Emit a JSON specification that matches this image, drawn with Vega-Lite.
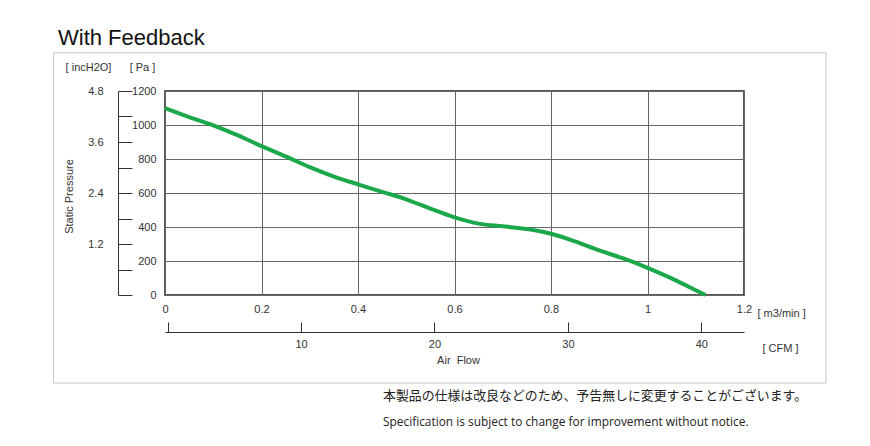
{
  "$schema": "https://vega.github.io/schema/vega-lite/v6.json",
  "width": 579,
  "height": 204,
  "autosize": {"type": "none"},
  "padding": {"left": 165, "top": 91, "right": 126, "bottom": 151},
  "background": "white",
  "title": {
    "text": "With Feedback",
    "anchor": "start",
    "frame": "group",
    "dx": -107,
    "offset": 2,
    "font": "Liberation Sans",
    "fontSize": 22,
    "fontWeight": "normal",
    "color": "#111111"
  },
  "config": {
    "view": {"stroke": "#222222", "strokeWidth": 1.5},
    "axis": {
      "labelFont": "Liberation Sans",
      "titleFont": "Liberation Sans",
      "labelFontSize": 11,
      "titleFontSize": 11,
      "titleFontWeight": "normal",
      "labelColor": "#333333",
      "titleColor": "#333333",
      "gridColor": "#666666",
      "gridOpacity": 1,
      "gridWidth": 1,
      "domainColor": "#333333",
      "tickColor": "#333333"
    }
  },
  "resolve": {"scale": {"x": "independent", "y": "independent"}},
  "layer": [
    {
      "data": {"values": [
        {"flow": 0, "pressure": 1100},
        {"flow": 0.05, "pressure": 1047},
        {"flow": 0.1, "pressure": 998},
        {"flow": 0.15, "pressure": 940},
        {"flow": 0.2, "pressure": 876},
        {"flow": 0.25, "pressure": 815},
        {"flow": 0.3, "pressure": 752},
        {"flow": 0.35, "pressure": 697},
        {"flow": 0.4, "pressure": 651},
        {"flow": 0.45, "pressure": 607},
        {"flow": 0.5, "pressure": 563},
        {"flow": 0.55, "pressure": 508},
        {"flow": 0.6, "pressure": 457},
        {"flow": 0.65, "pressure": 420},
        {"flow": 0.7, "pressure": 404},
        {"flow": 0.75, "pressure": 388},
        {"flow": 0.8, "pressure": 360},
        {"flow": 0.85, "pressure": 315},
        {"flow": 0.9, "pressure": 262},
        {"flow": 0.95, "pressure": 215},
        {"flow": 1.0, "pressure": 160},
        {"flow": 1.05, "pressure": 98},
        {"flow": 1.1, "pressure": 28},
        {"flow": 1.12, "pressure": 0}
      ]},
      "mark": {"type": "line", "color": "#1ba84b", "strokeWidth": 4, "interpolate": "monotone"},
      "encoding": {
        "x": {
          "field": "flow", "type": "quantitative",
          "scale": {"domain": [0, 1.2], "nice": false, "zero": false},
          "axis": {
            "orient": "bottom",
            "values": [0, 0.2, 0.4, 0.6, 0.8, 1, 1.2],
            "format": "~g",
            "grid": true, "ticks": false, "domain": false,
            "labelPadding": 8,
            "labelFlush": false,
            "title": "[ m3/min ]",
            "titleAngle": 0,
            "titleAlign": "left",
            "titleBaseline": "middle",
            "titleX": 592,
            "titleY": 18
          }
        },
        "y": {
          "field": "pressure", "type": "quantitative",
          "scale": {"domain": [0, 1200], "nice": false},
          "axis": {
            "orient": "left",
            "values": [0, 200, 400, 600, 800, 1000, 1200],
            "format": "d",
            "grid": true, "ticks": false, "domain": false,
            "labelPadding": 9,
            "labelFlush": false,
            "title": "[ Pa ]",
            "titleAngle": 0,
            "titleAlign": "center",
            "titleBaseline": "middle",
            "titleX": -23,
            "titleY": -24
          }
        }
      }
    },
    {
      "data": {"values": [{}]},
      "mark": {"type": "point", "opacity": 0},
      "encoding": {
        "x": {
          "datum": 0, "type": "quantitative",
          "scale": {"domain": [-0.2, 43.2], "nice": false, "zero": false},
          "axis": {
            "orient": "bottom",
            "offset": 37,
            "values": [0, 10, 20, 30, 40],
            "labelExpr": "datum.value == 0 ? '' : datum.label",
            "grid": false, "ticks": true, "domain": true,
            "tickSize": -10,
            "labelPadding": 16,
            "labelFlush": false,
            "title": "[ CFM ]",
            "titleAngle": 0,
            "titleAlign": "left",
            "titleBaseline": "middle",
            "titleX": 597,
            "titleY": 16
          }
        },
        "y": {
          "datum": 0, "type": "quantitative",
          "scale": {"domain": [0, 4.8], "nice": false},
          "axis": {
            "orient": "left",
            "offset": 47,
            "values": [0, 0.6, 1.2, 1.8, 2.4, 3, 3.6, 4.2, 4.8],
            "labelExpr": "(datum.value == 1.2 || datum.value == 2.4 || datum.value == 3.6 || datum.value == 4.8) ? format(datum.value, '.1f') : ''",
            "grid": false, "ticks": true, "domain": true,
            "tickSize": -14,
            "labelPadding": 29,
            "labelFlush": false,
            "title": "[ incH2O]",
            "titleAngle": 0,
            "titleAlign": "center",
            "titleBaseline": "middle",
            "titleX": -30,
            "titleY": -24
          }
        }
      }
    },
    {
      "data": {"values": [{}]},
      "mark": {"type": "rect", "fill": "transparent", "stroke": "#c8c8c8", "strokeWidth": 1},
      "encoding": {
        "x": {
          "datum": -0.2311, "type": "quantitative",
          "scale": {"domain": [0, 1.2], "nice": false, "zero": false},
          "axis": {
            "orient": "bottom",
            "labels": false, "ticks": false, "domain": false, "grid": false,
            "title": "Air\u00a0 Flow",
            "titleAngle": 0,
            "titleAlign": "center",
            "titleBaseline": "middle",
            "titleX": 293,
            "titleY": 65
          }
        },
        "x2": {"datum": 1.3699},
        "y": {
          "datum": 1425, "type": "quantitative",
          "scale": {"domain": [0, 1200], "nice": false},
          "axis": {
            "orient": "left",
            "labels": false, "ticks": false, "domain": false, "grid": false,
            "title": "Static Pressure",
            "titleAngle": -90,
            "titleAlign": "center",
            "titleBaseline": "middle",
            "titleX": -96,
            "titleY": 105
          }
        },
        "y2": {"datum": -518}
      }
    },
    {
      "data": {"values": [{}]},
      "mark": {"type": "text", "text": "本製品の仕様は改良などのため、予告無しに変更することがございます。", "align": "left", "baseline": "middle", "font": "Noto Sans CJK JP", "fontSize": 12.9, "color": "#222222"},
      "encoding": {
        "x": {"datum": 0.4518, "type": "quantitative", "scale": {"domain": [0, 1.2], "nice": false, "zero": false}, "axis": null},
        "y": {"datum": -594, "type": "quantitative", "scale": {"domain": [0, 1200], "nice": false}, "axis": null}
      }
    },
    {
      "data": {"values": [{}]},
      "mark": {"type": "text", "text": "Specification is subject to change for improvement without notice.", "align": "left", "baseline": "middle", "font": "Open Sans", "fontSize": 11.9, "color": "#222222"},
      "encoding": {
        "x": {"datum": 0.4518, "type": "quantitative", "scale": {"domain": [0, 1.2], "nice": false, "zero": false}, "axis": null},
        "y": {"datum": -745, "type": "quantitative", "scale": {"domain": [0, 1200], "nice": false}, "axis": null}
      }
    }
  ]
}
